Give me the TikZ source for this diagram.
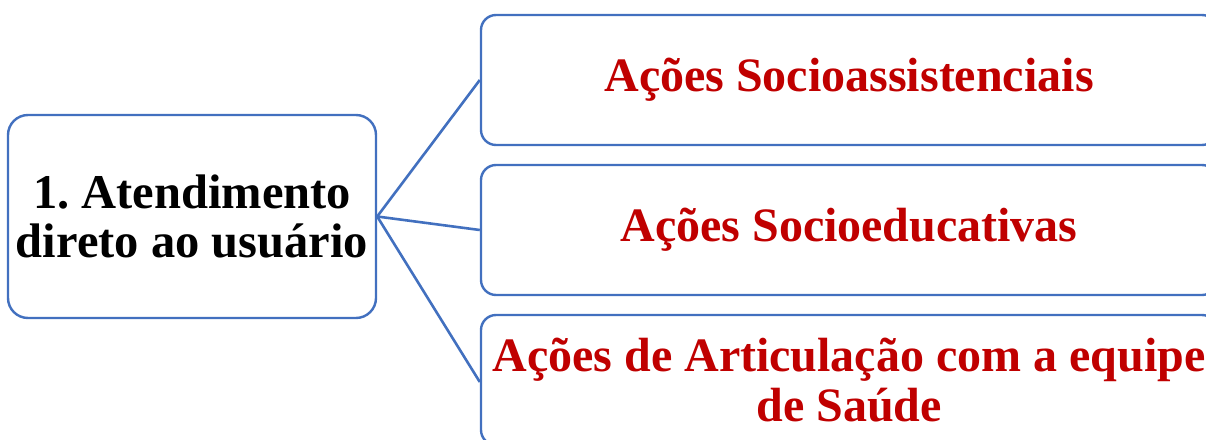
\documentclass[tikz,border=0pt]{standalone}
\usepackage{fontspec}
\setmainfont{Liberation Serif}
\definecolor{bord}{HTML}{4270BF}
\definecolor{txtred}{HTML}{C00000}
\begin{document}
\begin{tikzpicture}[x=1pt,y=-1pt,
  box/.style={draw=bord, line width=2.4pt, fill=white, inner sep=0pt},
  rbox/.style={box, rounded corners=15pt, minimum width=736pt, minimum height=130pt,
    text=txtred, font=\fontsize{48}{50}\selectfont\bfseries, align=center},
  lbox/.style={box, rounded corners=20pt, minimum width=368pt, minimum height=203pt,
    font=\fontsize{48.5}{49}\selectfont\bfseries, align=center},
  conn/.style={draw=bord, line width=2.6pt}]
\useasboundingbox (0,0) rectangle (1206,439);
\clip (0,0) rectangle (1206,439);
\node[lbox] (L) at (192,216.5) {1.\ Atendimento\\direto ao usuário};
\node[rbox] (A) at (849,80) {Ações Socioassistenciais};
\node[rbox] (B) at (849,230) {Ações Socioeducativas};
\node[rbox] (C) at (849,380) {Ações de Articulação com a equipe\\de Saúde};
\draw[conn] (L.east) -- (A.west);
\draw[conn] (L.east) -- (B.west);
\draw[conn] (L.east) -- ([yshift=-2pt]C.west);
\end{tikzpicture}
\end{document}
